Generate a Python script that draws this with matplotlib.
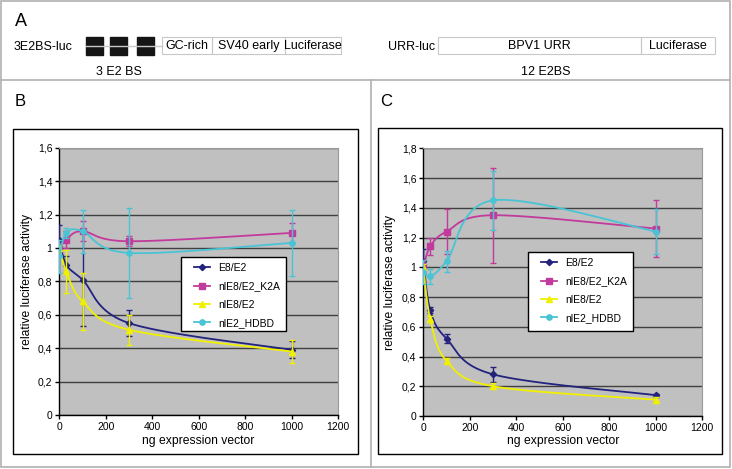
import numpy as np
import matplotlib.pyplot as plt
from matplotlib.patches import Rectangle
from matplotlib.lines import Line2D
from matplotlib.ticker import FuncFormatter

plt.rcParams['font.family'] = ['Liberation Sans', 'DejaVu Sans']

W, H = 732, 469

# --- data ---
ng = [0, 30, 100, 300, 1000]
names = ['E8/E2', 'nlE8/E2_K2A', 'nlE8/E2', 'nlE2_HDBD']
colors = ['#23237e', '#c23a9c', '#f0f000', '#48c4d4']
markers = ['D', 's', '^', 'o']
msizes = [3.2, 4.2, 4.5, 3.8]

# panel B: 3E2BS-luc
b_e8 = [1.05, 0.90, 0.81, 0.55, 0.39]
b_e8_err = [0.09, 0.05, 0.28, 0.08, 0.05]
b_k2a = [1.00, 1.05, 1.10, 1.04, 1.09]
b_k2a_err = [0.03, 0.05, 0.06, 0.03, 0.06]
b_nl = [1.00, 0.86, 0.68, 0.51, 0.38]
b_nl_err = [0.02, 0.13, 0.17, 0.09, 0.07]
b_hdbd = [0.95, 1.09, 1.10, 0.97, 1.03]
b_hdbd_err = [0.10, 0.03, 0.13, 0.27, 0.20]

# panel C: URR-luc
c_e8 = [1.04, 0.71, 0.52, 0.28, 0.14]
c_e8_err = [0.08, 0.02, 0.03, 0.05, 0.01]
c_k2a = [1.00, 1.14, 1.24, 1.35, 1.26]
c_k2a_err = [0.02, 0.06, 0.15, 0.32, 0.19]
c_nl = [1.00, 0.65, 0.37, 0.20, 0.11]
c_nl_err = [0.02, 0.02, 0.02, 0.02, 0.02]
c_hdbd = [0.97, 0.94, 1.04, 1.45, 1.24]
c_hdbd_err = [0.08, 0.05, 0.07, 0.20, 0.15]


def smooth(xs, ys, xmax, ymax, n=40):
    # excel-like smoothed line (catmull-rom bezier in normalised coords)
    p = np.column_stack([np.array(xs) / xmax, np.array(ys) / ymax])
    p = np.vstack([p[0], p, p[-1]])
    out = []
    t = np.linspace(0, 1, n)[:, None]
    for i in range(1, len(p) - 2):
        p0, p1, p2, p3 = p[i - 1], p[i], p[i + 1], p[i + 2]
        c1 = p1 + (p2 - p0) / 6
        c2 = p2 - (p3 - p1) / 6
        seg = ((1 - t) ** 3 * p1 + 3 * (1 - t) ** 2 * t * c1
               + 3 * (1 - t) * t ** 2 * c2 + t ** 3 * p2)
        out.append(seg)
    out = np.vstack(out)
    return out[:, 0] * xmax, out[:, 1] * ymax


def px_rect(x0, y0, x1, y1, **kw):
    return Rectangle((x0 / W, 1 - y1 / H), (x1 - x0) / W, (y1 - y0) / H,
                     transform=fig.transFigure, **kw)


def px_text(x, y, s, **kw):
    fig.text(x / W, 1 - y / H, s, **kw)


fig = plt.figure(figsize=(W / 100, H / 100), dpi=100)

# outer frame and dividers
frame = '#b0b0b0'
fig.add_artist(px_rect(1, 1, 730, 467, fill=False, ec=frame, lw=1.2, zorder=-2))
fig.add_artist(Line2D([1 / W, 730 / W], [1 - 80 / H] * 2, transform=fig.transFigure,
                      color=frame, lw=1.2))
fig.add_artist(Line2D([371 / W] * 2, [1 - 80 / H, 1 - 467 / H], transform=fig.transFigure,
                      color=frame, lw=1.2))

# panel A: constructs
fs_a = 9
px_text(15, 22, 'A', fontsize=13, va='center', ha='left')
px_text(14, 47, '3E2BS-luc', fontsize=fs_a, va='center', ha='left')
fig.add_artist(Line2D([86 / W, 162 / W], [1 - 46 / H] * 2, transform=fig.transFigure,
                      color='#c8c8c8', lw=1))
for x0 in [86, 110, 137]:
    fig.add_artist(px_rect(x0, 37, x0 + 17, 55, color='#151515'))
box_ec = '#c8c8c8'
for x0, x1, lab in [(162, 212, 'GC-rich'), (212, 285, 'SV40 early'), (285, 341, 'Luciferase')]:
    fig.add_artist(px_rect(x0, 37, x1, 54, fill=False, ec=box_ec, lw=0.8))
    px_text((x0 + x1) / 2, 46, lab, fontsize=fs_a, va='center', ha='center')
px_text(119, 72, '3 E2 BS', fontsize=fs_a, va='center', ha='center')

px_text(388, 47, 'URR-luc', fontsize=fs_a, va='center', ha='left')
for x0, x1, lab in [(438, 641, 'BPV1 URR'), (641, 715, 'Luciferase')]:
    fig.add_artist(px_rect(x0, 37, x1, 54, fill=False, ec=box_ec, lw=0.8))
    px_text((x0 + x1) / 2, 46, lab, fontsize=fs_a, va='center', ha='center')
px_text(546, 72, '12 E2BS', fontsize=fs_a, va='center', ha='center')

# panels B and C
px_text(15, 101, 'B', fontsize=12, va='center', ha='left')
px_text(380, 101, 'C', fontsize=12, va='center', ha='left')

fig.add_artist(px_rect(13, 129, 358, 454, fc='white', ec='black', lw=1, zorder=-1))
fig.add_artist(px_rect(378, 128, 722, 454, fc='white', ec='black', lw=1, zorder=-1))

comma = FuncFormatter(lambda v, pos: ('%g' % round(v, 2)).replace('.', ','))

panels = [
    dict(box=(59.3, 147.7, 338, 415), ymax=1.6, leg=(181, 257, 286, 331), hx=194, ylx=27,
         vals=[b_e8, b_k2a, b_nl, b_hdbd], errs=[b_e8_err, b_k2a_err, b_nl_err, b_hdbd_err]),
    dict(box=(423.3, 148.3, 702.3, 416), ymax=1.8, leg=(528, 252, 633, 331), hx=541, ylx=390,
         vals=[c_e8, c_k2a, c_nl, c_hdbd], errs=[c_e8_err, c_k2a_err, c_nl_err, c_hdbd_err]),
]

for p in panels:
    x0, y0, x1, y1 = p['box']
    ax = fig.add_axes([x0 / W, 1 - y1 / H, (x1 - x0) / W, (y1 - y0) / H])
    ax.set_facecolor('#c0c0c0')
    ax.set_xlim(0, 1200)
    ax.set_ylim(0, p['ymax'])
    ax.set_xticks(range(0, 1201, 200))
    ax.set_yticks(np.arange(0, p['ymax'] + 0.01, 0.2))
    ax.yaxis.set_major_formatter(comma)
    ax.yaxis.grid(True, color='#404040', lw=1)
    ax.set_axisbelow(True)
    for s in ['top', 'right']:
        ax.spines[s].set_color('#9a9a9a')
        ax.spines[s].set_linewidth(0.8)
    for s in ['left', 'bottom']:
        ax.spines[s].set_linewidth(1)
    ax.tick_params(direction='out', length=3, width=1, labelsize=7.5, pad=2)

    for i in range(4):
        z = 3 + i
        ax.errorbar(ng, p['vals'][i], yerr=p['errs'][i], fmt='none', ecolor=colors[i],
                    elinewidth=1, capsize=2, capthick=1, zorder=z)
        sx, sy = smooth(ng, p['vals'][i], 1200, p['ymax'])
        ax.plot(sx, sy, color=colors[i], lw=1.3, zorder=z)
        ax.plot(ng, p['vals'][i], ls='none', marker=markers[i], ms=msizes[i],
                color=colors[i], zorder=z)

    ax.set_ylabel('relative luciferase activity', fontsize=8.7, va='center')
    ax.yaxis.set_label_coords((p['ylx'] - x0) / (x1 - x0), 0.5)
    ax.set_xlabel('ng expression vector', fontsize=8.7, va='center')
    ax.xaxis.set_label_coords(0.5, (y1 - 441) / (y1 - y0))

    # legend: frame drawn separately so padding matches
    lx0, ly0, lx1, ly1 = p['leg']
    fig.add_artist(px_rect(lx0, ly0, lx1, ly1, fc='white', ec='black', lw=1, zorder=9))
    handles = [Line2D([], [], color=colors[i], marker=markers[i], ms=msizes[i], lw=1.3)
               for i in range(4)]
    leg = fig.legend(handles, names, loc='upper left',
                     bbox_to_anchor=(p['hx'] / W, 1 - (ly0 + 6) / H),
                     fontsize=7.5, frameon=False,
                     borderaxespad=0, borderpad=0, handlelength=1.55,
                     handletextpad=0.75, labelspacing=0.8)
    leg.set_zorder(10)

plt.savefig('out.png', dpi=100)
